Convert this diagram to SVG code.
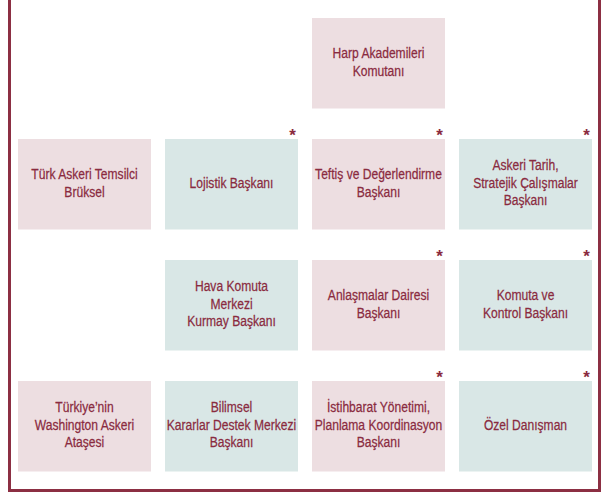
<svg xmlns="http://www.w3.org/2000/svg" width="602" height="493" viewBox="0 0 602 493">
  <style>
    .box-p { fill: #EDDEE1; }
    .box-t { fill: #D9E7E6; }
    .lbl { font-family: "Liberation Sans", Arial, sans-serif; font-size: 15.5px; fill: #8A2B3F; stroke: #8A2B3F; stroke-width: 0.25; text-anchor: middle; }
    .star { font-family: "Liberation Sans", Arial, sans-serif; font-size: 17px; font-weight: bold; fill: #8A2B3F; text-anchor: middle; }
    .frame { fill: none; stroke: #8C2F43; stroke-width: 3; }
  </style>

  <!-- outer frame, open at the top -->
  <path class="frame" d="M9.5,0 V490.5 H599.5 V0"/>

  <!-- row 1 -->
  <g id="harp-akademileri">
    <rect class="box-p" x="312" y="18" width="133" height="90.5"/>
    <g transform="translate(378.5,0) scale(0.78,1)">
      <text class="lbl" x="0" y="58.25">Harp Akademileri</text>
      <text class="lbl" x="0" y="75.75">Komutanı</text>
    </g>
  </g>

  <!-- row 2 -->
  <g id="turk-askeri-temsilci">
    <rect class="box-p" x="18" y="139" width="133" height="90.5"/>
    <g transform="translate(84.5,0) scale(0.78,1)">
      <text class="lbl" x="0" y="179.25">Türk Askeri Temsilci</text>
      <text class="lbl" x="0" y="196.75">Brüksel</text>
    </g>
  </g>
  <g id="lojistik">
    <rect class="box-t" x="165" y="139" width="133" height="90.5"/>
    <text class="star" x="292.5" y="141">*</text>
    <g transform="translate(231.5,0) scale(0.78,1)">
      <text class="lbl" x="0" y="188">Lojistik Başkanı</text>
    </g>
  </g>
  <g id="teftis">
    <rect class="box-p" x="312" y="139" width="133" height="90.5"/>
    <text class="star" x="439.5" y="141">*</text>
    <g transform="translate(378.5,0) scale(0.78,1)">
      <text class="lbl" x="0" y="179.25">Teftiş ve Değerlendirme</text>
      <text class="lbl" x="0" y="196.75">Başkanı</text>
    </g>
  </g>
  <g id="askeri-tarih">
    <rect class="box-t" x="459" y="139" width="133" height="90.5"/>
    <text class="star" x="586.5" y="141">*</text>
    <g transform="translate(525.5,0) scale(0.78,1)">
      <text class="lbl" x="0" y="170.5">Askeri Tarih,</text>
      <text class="lbl" x="0" y="188">Stratejik Çalışmalar</text>
      <text class="lbl" x="0" y="205.5">Başkanı</text>
    </g>
  </g>

  <!-- row 3 -->
  <g id="hava-komuta">
    <rect class="box-t" x="165" y="260" width="133" height="90.5"/>
    <g transform="translate(231.5,0) scale(0.78,1)">
      <text class="lbl" x="0" y="291.5">Hava Komuta</text>
      <text class="lbl" x="0" y="309">Merkezi</text>
      <text class="lbl" x="0" y="326.5">Kurmay Başkanı</text>
    </g>
  </g>
  <g id="anlasmalar">
    <rect class="box-p" x="312" y="260" width="133" height="90.5"/>
    <text class="star" x="439.5" y="262">*</text>
    <g transform="translate(378.5,0) scale(0.78,1)">
      <text class="lbl" x="0" y="300.25">Anlaşmalar Dairesi</text>
      <text class="lbl" x="0" y="317.75">Başkanı</text>
    </g>
  </g>
  <g id="komuta-kontrol">
    <rect class="box-t" x="459" y="260" width="133" height="90.5"/>
    <text class="star" x="586.5" y="262">*</text>
    <g transform="translate(525.5,0) scale(0.78,1)">
      <text class="lbl" x="0" y="300.25">Komuta ve</text>
      <text class="lbl" x="0" y="317.75">Kontrol Başkanı</text>
    </g>
  </g>

  <!-- row 4 -->
  <g id="washington-atasesi">
    <rect class="box-p" x="18" y="381" width="133" height="90.5"/>
    <g transform="translate(84.5,0) scale(0.78,1)">
      <text class="lbl" x="0" y="412.5">Türkiye’nin</text>
      <text class="lbl" x="0" y="430">Washington Askeri</text>
      <text class="lbl" x="0" y="447.5">Ataşesi</text>
    </g>
  </g>
  <g id="bilimsel-karar">
    <rect class="box-t" x="165" y="381" width="133" height="90.5"/>
    <g transform="translate(231.5,0) scale(0.78,1)">
      <text class="lbl" x="0" y="412.5">Bilimsel</text>
      <text class="lbl" x="0" y="430">Kararlar Destek Merkezi</text>
      <text class="lbl" x="0" y="447.5">Başkanı</text>
    </g>
  </g>
  <g id="istihbarat">
    <rect class="box-p" x="312" y="381" width="133" height="90.5"/>
    <text class="star" x="439.5" y="383">*</text>
    <g transform="translate(378.5,0) scale(0.78,1)">
      <text class="lbl" x="0" y="412.5">İstihbarat Yönetimi,</text>
      <text class="lbl" x="0" y="430">Planlama Koordinasyon</text>
      <text class="lbl" x="0" y="447.5">Başkanı</text>
    </g>
  </g>
  <g id="ozel-danisman">
    <rect class="box-t" x="459" y="381" width="133" height="90.5"/>
    <text class="star" x="586.5" y="383">*</text>
    <g transform="translate(525.5,0) scale(0.78,1)">
      <text class="lbl" x="0" y="430">Özel Danışman</text>
    </g>
  </g>

  <!-- no connectors are drawn between the units -->
  <g id="connectors"/>
</svg>
